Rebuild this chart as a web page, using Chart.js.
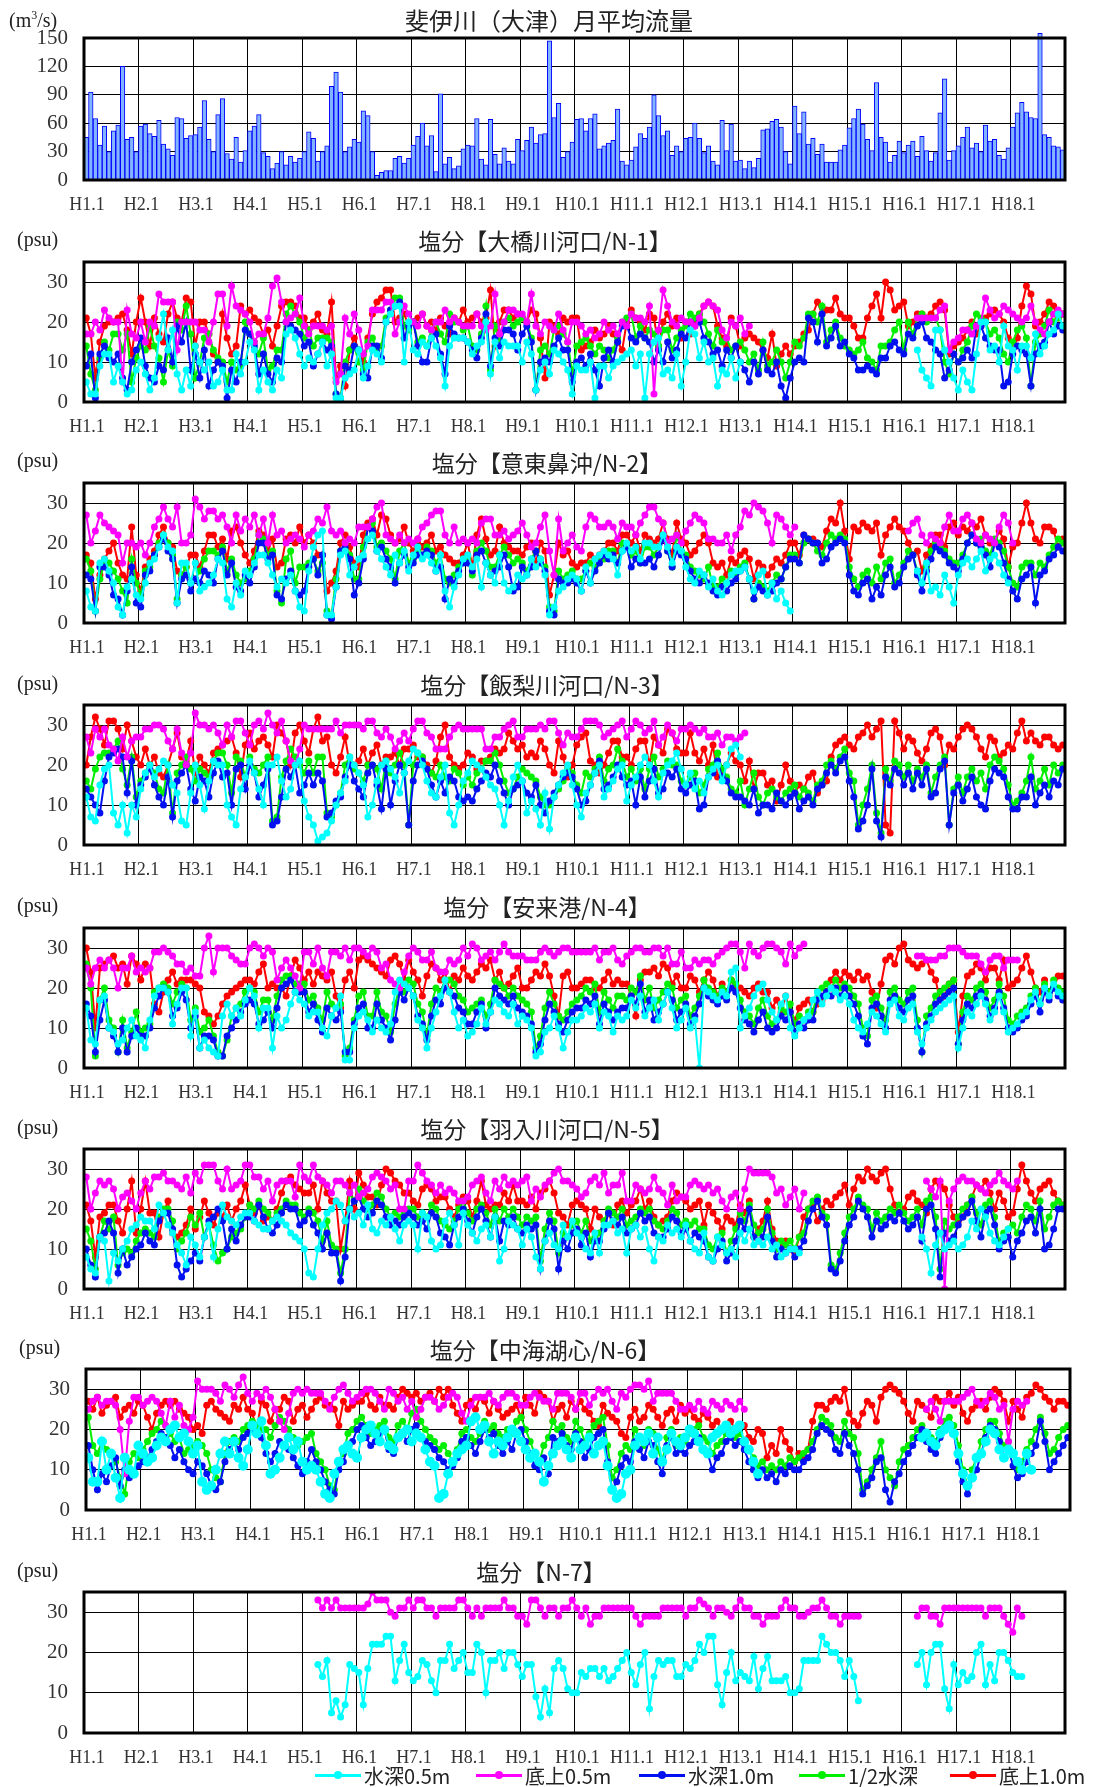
<!DOCTYPE html>
<html lang="ja">
<head>
<meta charset="utf-8">
<title>斐伊川（大津）月平均流量・中海塩分</title>
<script src="https://cdn.jsdelivr.net/npm/chart.js@4.4.1/dist/chart.umd.min.js"></script>
<style>
html, body { margin: 0; padding: 0; background: #fff; }
#page { position: relative; width: 1099px; height: 1787px; overflow: hidden; font-family: "Noto Sans CJK JP", sans-serif; color: #222; }
#page canvas { position: absolute; left: 0; }
.title { position: absolute; transform: translate(-50%, -50%); font-size: 23px; white-space: nowrap; z-index: 2; }
.unit { position: absolute; transform: translateY(-50%); font-family: "Liberation Serif", serif; font-size: 20px; white-space: nowrap; z-index: 2; }
.unit sup { font-size: 12px; }
.lg { position: absolute; top: 1763px; height: 24px; display: flex; align-items: center; font-size: 20px; white-space: nowrap; z-index: 2; }
.lg b { display: block; position: relative; width: 46px; height: 3px; margin-right: 3px; }
.lg b::after { content: ""; position: absolute; left: 50%; top: 50%; width: 8px; height: 8px; border-radius: 50%; background: inherit; transform: translate(-50%, -50%); }
</style>
</head>
<body>
<div id="page">
  <div class="unit" style="left:9px;top:20px">(m<sup>3</sup>/s)</div>
  <div class="title" style="left:549px;top:19px;font-size:24px">斐伊川（大津）月平均流量</div>

  <div class="unit" style="left:17px;top:239px">(psu)</div>
  <div class="title" style="left:545px;top:240px">塩分【大橋川河口/N-1】</div>
  <div class="unit" style="left:17px;top:460px">(psu)</div>
  <div class="title" style="left:547px;top:462px">塩分【意東鼻沖/N-2】</div>
  <div class="unit" style="left:17px;top:683px">(psu)</div>
  <div class="title" style="left:547px;top:684px">塩分【飯梨川河口/N-3】</div>
  <div class="unit" style="left:17px;top:905px">(psu)</div>
  <div class="title" style="left:547px;top:906px">塩分【安来港/N-4】</div>
  <div class="unit" style="left:17px;top:1127px">(psu)</div>
  <div class="title" style="left:547px;top:1128px">塩分【羽入川河口/N-5】</div>
  <div class="unit" style="left:19px;top:1347px">(psu)</div>
  <div class="title" style="left:545px;top:1349px">塩分【中海湖心/N-6】</div>
  <div class="unit" style="left:17px;top:1570px">(psu)</div>
  <div class="title" style="left:541px;top:1571px">塩分【N-7】</div>

  <div class="lg" style="left:315px"><b style="background:#00ffff"></b>水深0.5m</div>
  <div class="lg" style="left:476px"><b style="background:#ff00ff"></b>底上0.5m</div>
  <div class="lg" style="left:639px"><b style="background:#0010f0"></b>水深1.0m</div>
  <div class="lg" style="left:799px"><b style="background:#00ee00"></b>1/2水深</div>
  <div class="lg" style="left:950px"><b style="background:#ff0000"></b>底上1.0m</div>
</div>

<script>
// ---------------- data ----------------
const yearLabels = ["H1.1","H2.1","H3.1","H4.1","H5.1","H6.1","H7.1","H8.1","H9.1",
  "H10.1","H11.1","H12.1","H13.1","H14.1","H15.1","H16.1","H17.1","H18.1"];

const seriesNames = ["水深0.5m", "底上0.5m", "水深1.0m", "1/2水深", "底上1.0m"];

// monthly mean flow (m3/s), H1.1 - H18.12
const flow = [
  45,93,65,37,57,30,52,58,120,43,45,30,
  57,59,49,46,63,38,33,26,66,65,44,47,
  48,56,84,43,30,69,86,28,22,45,19,31,
  52,57,69,29,25,12,18,30,16,25,19,23,
  30,51,44,20,30,36,99,114,93,30,35,43,
  40,73,68,30,5,8,10,10,23,25,18,23,
  37,46,60,36,47,9,91,17,24,12,15,33,
  37,36,65,22,16,64,27,17,34,20,17,43,
  31,42,56,39,48,49,147,66,81,24,30,40,
  64,65,52,65,70,33,36,39,42,75,20,16,
  21,35,49,44,56,90,68,47,52,26,36,30,
  44,45,60,44,29,36,20,16,63,31,59,20,
  21,12,20,13,23,53,54,62,64,56,30,17,
  78,49,72,38,44,27,38,19,19,19,32,37,
  55,65,75,59,43,31,103,45,40,19,26,41,
  29,37,41,25,46,31,20,29,71,107,21,31,
  36,45,56,34,39,30,58,41,43,26,22,34,
  56,71,82,72,66,65,155,48,45,36,35,32
];

// ---- N-1 ----
const n1Cyan = [
  5,2,2,9,12,12,5,9,5,2,3,8,
  10,7,3,6,16,22,13,18,7,3,8,4,
  14,10,8,10,4,5,8,3,3,12,7,10,
  15,13,3,8,5,3,8,6,17,18,16,12,
  9,11,10,12,15,9,12,1,1,6,7,8,
  13,6,9,13,12,10,20,22,24,24,10,20,
  13,12,15,14,16,14,11,4,14,16,16,16,
  15,12,14,15,20,7,15,11,15,14,14,14,
  10,15,12,3,8,10,7,13,12,10,8,2,
  9,8,8,10,1,9,9,6,9,10,11,12,
  13,9,12,1,12,15,16,7,8,6,12,4,
  10,18,17,11,15,10,11,4,8,7,11,6,
  10,null,null,null,null,null,null,null,null,null,null,null,
  null,null,null,null,null,null,null,null,null,null,null,null,
  null,null,null,null,null,null,null,null,null,null,null,null,
  null,null,null,13,8,6,4,18,18,13,10,6,
  3,8,5,3,12,20,20,13,14,10,19,14,
  13,8,14,14,11,17,12,14,17,18,22,19
];
const n1Magenta = [
  17,17,20,18,23,21,20,20,5,23,17,16,
  20,15,20,19,27,25,25,25,13,20,20,20,
  20,18,18,15,20,27,27,19,29,24,23,22,
  20,15,17,17,21,29,31,25,20,21,22,26,
  19,17,19,19,19,18,19,5,7,21,17,22,
  18,12,14,23,23,23,25,25,17,20,24,22,
  20,19,22,19,18,20,20,23,20,21,20,19,
  19,19,22,19,18,19,27,17,20,23,23,22,
  22,20,27,19,17,20,19,18,22,18,15,20,
  20,19,17,18,16,17,20,18,19,17,20,19,
  22,21,21,20,24,2,18,28,24,20,19,21,
  20,20,19,21,24,25,24,23,18,16,20,19,
  21,17,19,null,null,null,null,null,null,null,null,null,
  null,null,null,null,null,null,null,null,null,null,null,null,
  null,null,null,null,null,null,null,null,null,null,null,null,
  null,null,null,21,21,21,21,21,23,24,13,15,
  16,18,18,17,19,20,26,23,21,22,24,23,
  22,21,20,21,24,20,18,17,20,22,23,22
];
const n1Blue = [
  9,12,1,12,14,11,10,12,6,3,10,13,
  16,9,6,5,9,8,16,10,19,15,20,8,
  12,6,13,4,8,10,9,1,8,5,10,18,
  17,14,7,12,7,5,11,10,20,19,18,17,
  14,15,9,12,15,13,14,2,0,9,8,14,
  13,7,6,14,14,11,20,23,24,25,16,19,
  20,14,10,10,16,17,12,7,19,17,16,16,
  15,13,11,16,22,9,16,14,18,18,17,13,
  17,19,15,3,10,11,10,14,16,13,13,5,
  10,11,9,12,8,4,11,13,10,15,19,19,
  16,15,17,16,15,10,13,10,15,11,13,17,
  16,20,19,20,16,15,12,13,9,13,11,14,
  10,8,5,10,7,13,8,7,10,4,1,6,
  10,11,10,21,20,15,22,14,16,19,14,15,
  12,11,8,8,9,8,7,11,11,14,15,13,
  12,17,16,19,20,16,15,13,12,6,8,12,
  10,11,13,11,19,19,16,14,13,13,4,5,
  12,14,13,12,4,12,14,15,20,17,19,18
];
const n1Green = [
  14,7,3,11,15,13,17,17,13,17,5,11,
  14,13,19,14,11,5,13,9,20,18,24,17,
  6,10,16,17,13,11,10,5,10,8,9,20,
  17,15,12,16,8,9,13,13,22,24,22,20,
  16,18,14,16,16,16,15,2,1,10,13,14,
  10,8,15,16,13,14,21,23,26,26,19,18,
  20,15,16,14,18,20,17,15,22,20,20,18,
  19,14,13,17,24,8,19,15,20,21,19,20,
  21,20,16,3,13,14,12,18,19,17,15,7,
  14,15,16,14,12,14,13,11,13,16,20,21,
  22,16,19,16,18,17,14,18,18,13,16,18,
  19,22,21,22,20,17,14,18,15,16,13,14,
  15,13,10,12,8,15,9,10,13,10,6,10,
  15,14,16,22,22,20,24,15,18,20,16,14,
  13,12,13,15,11,10,8,14,14,15,18,20,
  13,20,17,21,22,20,21,21,18,10,7,12,
  10,13,15,19,22,21,20,17,18,16,12,10,
  15,18,19,16,4,15,17,19,23,20,21,22
];
const n1Red = [
  21,17,6,15,19,20,20,21,22,18,12,20,
  26,20,14,21,17,15,22,25,21,20,26,25,
  14,20,20,17,12,10,22,16,12,14,24,22,
  23,21,20,17,18,14,19,24,25,25,24,21,
  21,18,20,22,18,17,25,6,9,4,13,16,
  13,10,16,22,25,26,28,28,20,21,22,19,
  20,21,22,19,20,18,21,19,17,21,20,23,
  20,21,22,20,21,28,14,20,23,23,21,22,
  21,20,23,22,16,6,20,19,17,21,20,21,
  21,13,14,15,18,16,17,19,17,15,13,20,
  23,21,20,18,22,21,14,20,22,19,21,16,
  20,17,20,22,24,25,24,19,16,14,21,19,
  14,16,17,16,15,13,11,17,9,12,14,12,
  14,15,17,18,22,25,22,23,23,26,22,21,
  21,19,16,16,21,24,27,21,30,28,23,24,
  25,19,20,22,22,21,22,24,25,23,12,14,
  15,16,18,20,17,19,21,22,23,22,20,16,
  13,16,24,29,27,19,20,22,25,24,21,22
];

// ---- N-2 ----
const n2Cyan = [
  8,4,3,15,16,13,10,4,2,9,11,7,
  6,10,15,16,19,22,19,18,5,15,15,10,
  15,8,9,10,12,16,15,6,4,10,7,13,
  12,15,17,17,15,12,9,11,10,12,8,4,
  3,13,19,22,23,2,2,9,17,18,12,14,
  16,17,21,22,18,16,14,12,17,15,18,13,
  17,19,16,17,15,13,17,8,4,9,12,16,
  17,14,16,9,15,12,10,17,10,8,9,12,
  11,12,16,14,16,12,2,4,8,9,11,12,
  11,8,14,10,16,17,18,17,16,12,18,20,
  18,19,16,20,20,19,19,22,19,15,19,18,
  14,11,10,13,12,9,11,8,7,10,12,13,
  13,14,11,8,12,13,7,10,6,8,5,3,
  null,null,null,null,null,null,null,null,null,null,null,null,
  null,null,null,null,null,null,null,null,null,null,null,null,
  null,null,null,13,10,15,8,9,7,12,9,5,
  12,15,16,14,16,18,13,16,17,15,12,10,
  null,null,null,null,null,null,null,null,null,null,null,null
];
const n2Magenta = [
  27,20,23,27,25,24,23,22,15,20,20,19,
  20,17,20,24,26,29,26,24,29,20,20,22,
  31,29,26,28,28,26,27,24,20,27,23,26,
  24,27,22,26,20,27,22,23,20,21,22,21,
  19,22,23,26,25,29,23,22,23,20,21,20,
  24,24,24,26,29,30,22,21,20,22,20,21,
  20,21,24,25,27,28,28,22,20,24,20,21,
  20,21,20,25,26,26,22,22,23,21,22,23,
  25,22,19,20,24,27,18,12,26,18,20,22,
  19,18,24,27,26,24,24,25,24,21,25,24,
  24,22,25,27,29,29,26,25,20,21,22,20,
  23,25,27,26,25,21,21,20,20,22,18,22,
  24,28,27,30,29,28,25,20,27,26,24,22,
  24,null,null,null,null,null,null,null,null,null,null,null,
  null,null,null,null,null,null,null,null,null,null,null,null,
  null,23,25,26,22,20,22,21,20,24,27,23,
  23,26,27,25,21,20,22,21,20,24,27,25,
  20,null,null,null,null,null,null,null,null,null,null,null
];
const n2Blue = [
  12,11,3,14,14,12,7,6,2,8,14,5,
  4,12,13,17,19,21,18,16,5,11,12,8,
  11,10,13,12,10,16,18,12,15,9,8,12,
  10,14,20,20,16,17,7,6,11,13,8,7,
  8,14,16,12,17,2,1,9,18,19,16,7,
  10,16,24,23,18,19,16,14,10,15,17,14,
  15,17,17,18,17,13,14,6,11,10,13,15,
  15,13,17,18,15,12,13,14,17,14,8,9,
  14,12,14,18,15,13,3,2,11,10,10,11,
  10,8,13,10,13,15,17,16,17,15,18,19,
  14,16,15,15,16,14,17,21,18,14,18,17,
  16,13,11,10,12,10,8,7,9,8,10,11,
  13,14,11,6,9,8,7,8,10,11,14,16,
  16,15,22,21,20,20,15,16,19,20,21,20,
  12,8,7,10,11,6,9,7,12,14,9,10,
  14,16,17,12,8,13,16,19,18,17,15,14,
  13,16,20,22,20,19,17,14,20,19,15,11,
  8,6,11,12,14,5,12,13,16,17,19,18
];
const n2Green = [
  16,13,3,11,15,15,13,11,8,5,16,10,
  7,13,14,17,20,22,20,17,6,12,14,10,
  11,13,16,18,18,17,19,13,16,12,10,11,
  13,16,22,21,17,18,8,5,16,18,10,14,
  14,15,16,13,15,3,2,11,18,20,17,11,
  11,19,24,25,19,20,18,16,11,18,20,15,
  16,18,17,19,18,15,17,11,10,12,14,16,
  16,12,18,20,18,14,14,17,19,17,15,16,
  15,13,16,18,16,14,4,3,13,11,12,13,
  11,11,13,15,14,16,16,18,18,15,20,19,
  17,18,15,19,19,17,19,22,18,14,22,18,
  17,14,13,12,11,14,9,9,11,10,13,12,
  14,15,11,6,10,9,8,10,12,11,14,17,
  17,15,20,21,20,18,17,20,22,21,22,21,
  14,11,9,12,13,10,14,11,15,16,10,12,
  15,18,17,13,10,14,18,20,19,18,16,15,
  15,17,20,22,20,21,18,17,21,20,18,14,
  10,9,14,15,15,12,15,14,17,19,21,20
];
const n2Red = [
  17,15,6,12,16,18,20,15,12,11,24,12,
  8,14,16,18,22,24,20,19,13,12,14,17,
  17,14,18,22,22,19,21,16,23,24,20,17,
  15,18,23,22,18,21,14,15,21,22,20,24,
  20,22,20,17,17,8,10,13,20,22,19,15,
  14,22,25,26,22,27,26,22,20,21,24,20,
  18,21,19,20,22,18,19,17,16,15,15,17,
  20,14,22,26,21,17,18,24,20,19,18,18,
  17,19,20,15,20,18,7,12,20,17,18,15,
  14,15,15,17,16,17,18,20,20,18,22,22,
  20,22,18,22,21,20,21,25,21,17,25,21,
  20,17,18,20,22,20,15,14,15,12,16,15,
  17,18,16,11,15,14,12,14,16,15,17,20,
  20,17,22,21,21,20,19,23,26,25,30,23,
  16,24,23,25,24,23,25,17,22,24,26,24,
  23,20,17,18,13,17,19,22,22,19,24,25,
  22,24,23,25,24,26,22,20,20,23,21,14,
  19,20,25,30,25,21,20,24,24,23,19,21
];

// ---- N-3 ----
const n3Cyan = [
  12,7,6,15,19,20,8,5,10,3,10,7,
  14,18,20,17,19,21,20,15,13,6,5,13,
  20,15,9,16,21,20,20,10,7,5,14,17,
  21,18,14,10,20,20,22,16,12,14,20,21,
  11,7,5,1,2,3,6,10,13,16,22,20,
  18,15,7,10,16,20,21,19,17,13,18,21,
  24,23,20,16,13,12,17,20,8,5,10,16,
  18,21,20,19,17,15,14,10,5,11,17,20,
  16,8,11,9,5,13,4,12,15,18,20,15,
  10,7,13,15,18,20,12,14,16,19,20,11,
  15,17,20,22,20,16,12,18,20,21,23,19,
  15,18,14,16,13,17,19,20,16,20,24,25,
  22,null,null,null,null,null,null,null,null,null,null,null,
  null,null,null,null,null,null,null,null,null,null,null,null,
  null,null,null,null,null,null,null,null,null,null,null,null,
  null,null,null,null,null,null,null,null,null,null,null,null,
  null,null,null,null,null,null,null,null,null,null,null,null,
  null,null,null,null,null,null,null,null,null,null,null,null
];
const n3Magenta = [
  27,23,29,27,29,25,24,21,27,22,26,27,
  27,29,29,30,30,29,26,24,29,23,20,23,
  33,30,30,29,30,28,25,30,27,31,31,28,
  25,30,31,29,33,30,28,31,26,21,20,24,
  30,29,29,29,29,29,29,31,28,30,30,30,
  30,29,31,31,28,27,29,27,24,26,28,26,
  29,31,31,28,27,24,24,24,27,29,30,29,
  29,29,29,29,24,24,27,27,29,30,31,27,
  27,29,29,29,30,29,31,31,28,25,28,27,
  27,29,31,31,31,30,27,28,29,30,31,27,
  29,31,30,28,29,31,25,27,30,28,26,29,
  29,30,29,28,29,27,27,28,25,27,27,26,
  27,28,null,null,null,null,null,null,null,null,null,null,
  null,null,null,null,null,null,null,null,null,null,null,null,
  null,null,null,null,null,null,null,null,null,null,null,null,
  null,null,null,null,null,null,null,null,null,null,null,null,
  null,null,null,null,null,null,null,null,null,null,null,null,
  null,null,null,null,null,null,null,null,null,null,null,null
];
const n3Blue = [
  14,12,10,8,16,22,23,24,22,13,21,10,
  15,17,19,15,12,10,17,7,16,18,20,14,
  11,17,16,12,18,21,17,18,10,19,20,14,
  20,18,12,15,19,5,6,12,19,17,20,13,
  15,18,15,18,16,7,8,11,12,17,20,16,
  14,12,18,20,15,9,19,10,16,20,18,5,
  16,20,21,19,15,12,16,13,17,16,12,11,
  12,11,14,16,18,17,20,16,13,10,14,15,
  16,13,12,15,10,8,11,13,15,17,18,17,
  14,10,11,15,18,21,14,15,17,20,17,15,
  16,10,17,12,16,19,13,14,18,17,19,14,
  13,15,16,9,10,17,18,21,17,16,13,12,
  12,11,10,14,8,10,10,9,13,11,10,12,
  13,9,11,12,10,14,15,18,20,18,21,22,
  16,12,4,6,10,19,6,2,17,15,19,18,
  15,18,14,18,15,19,12,13,19,21,5,13,
  15,11,14,17,12,10,9,16,19,18,17,12,
  9,9,12,12,17,10,13,15,12,16,15,19
];
const n3Green = [
  16,14,19,22,23,23,24,26,19,15,22,12,
  16,18,20,18,14,13,20,8,18,20,22,19,
  16,19,18,17,21,23,23,20,13,22,21,17,
  22,19,18,20,22,6,7,17,21,24,22,20,
  18,21,18,22,22,8,7,10,13,20,22,19,
  18,16,20,20,19,14,21,18,20,23,20,5,
  20,23,22,19,18,17,20,17,16,19,18,15,
  17,15,18,19,21,21,23,20,16,13,14,17,
  19,18,17,16,12,10,10,12,14,16,19,18,
  15,13,18,17,19,22,16,19,20,24,21,17,
  19,16,19,14,19,22,17,19,21,20,20,16,
  15,17,18,13,15,19,20,23,19,17,14,13,
  16,10,14,18,12,10,13,14,12,11,13,14,
  15,12,14,13,11,15,16,20,21,19,22,24,
  18,16,5,10,14,20,8,3,19,16,21,20,
  17,20,16,19,17,20,13,17,20,22,5,14,
  17,13,17,19,16,18,14,20,22,21,19,15,
  10,11,13,16,22,14,16,19,15,20,18,20
];
const n3Red = [
  20,27,32,29,25,31,31,29,24,30,26,22,
  20,24,20,22,18,17,20,24,28,22,21,26,
  18,22,20,18,23,24,25,26,27,23,17,25,
  28,24,26,27,25,22,30,28,26,20,28,30,
  26,23,29,32,26,27,20,18,22,27,20,20,
  21,24,20,23,25,20,22,22,23,20,24,24,
  25,22,22,20,18,21,27,30,22,20,19,20,
  23,22,19,21,21,22,24,23,24,28,26,24,
  25,22,23,22,26,24,20,18,26,22,17,20,
  25,27,28,21,20,18,20,23,26,26,22,22,
  20,24,26,26,20,27,25,23,29,28,24,23,
  23,28,23,21,24,20,25,17,18,20,23,21,
  20,16,21,14,18,18,15,16,11,15,20,16,
  13,15,14,17,18,13,15,16,22,25,26,27,
  25,24,27,28,30,27,29,31,5,3,31,28,
  24,27,26,23,21,24,28,29,27,20,25,24,
  27,29,30,29,27,24,22,27,26,22,23,25,
  24,28,31,26,28,26,25,27,27,25,24,25
];

// ---- N-4 ----
const n4Cyan = [
  15,7,6,17,18,10,9,6,7,10,12,8,
  7,5,12,18,20,20,19,11,16,20,20,8,
  14,5,7,5,4,3,13,16,13,15,13,17,
  20,18,10,15,15,5,13,10,12,16,19,17,
  16,13,14,14,10,8,13,15,18,2,2,10,
  13,14,12,9,12,10,9,11,19,22,21,20,
  18,12,10,5,10,14,18,22,19,14,10,12,
  8,9,11,15,11,14,17,16,14,13,16,11,
  13,12,10,3,4,9,10,13,10,5,9,12,
  12,13,15,14,16,10,14,13,9,13,12,13,
  17,15,18,13,15,17,12,16,19,15,10,12,
  15,10,12,0,20,19,18,17,19,18,24,25,
  10,13,15,18,20,21,17,14,12,16,18,10,
  8,10,12,13,17,19,16,18,20,19,17,18,
  16,12,10,9,11,14,13,11,9,16,17,13,
  12,15,16,9,6,10,12,14,15,16,17,18,
  5,10,14,13,16,18,16,12,14,18,14,9,
  10,11,13,14,17,19,16,20,18,21,19,18
];
const n4Magenta = [
  25,21,25,27,25,27,25,20,25,25,28,24,
  25,24,25,29,29,30,29,28,26,26,24,25,
  23,23,30,33,24,30,30,30,28,27,26,26,
  30,31,30,28,30,29,22,25,27,25,23,20,
  29,29,26,30,25,23,29,29,28,30,27,30,
  30,29,28,30,29,25,26,22,21,20,24,28,
  30,29,27,27,29,25,24,24,27,26,27,30,
  28,31,30,27,28,29,27,29,31,29,28,28,
  28,27,27,27,29,30,29,28,29,30,30,29,
  29,29,29,29,30,27,29,29,30,27,26,28,
  29,30,30,29,29,30,30,28,30,26,26,29,
  25,25,27,26,27,27,26,28,29,30,31,31,
  29,25,31,29,28,30,31,31,30,29,26,31,
  28,30,31,null,null,null,null,null,null,null,null,null,
  null,null,null,null,null,null,null,null,null,null,null,null,
  null,null,null,28,28,27,27,27,28,28,30,30,
  30,29,28,28,28,26,24,27,28,28,25,27,
  27,27,null,null,null,null,null,null,null,null,null,null
];
const n4Blue = [
  16,13,4,12,17,10,8,4,10,4,8,10,
  8,8,10,15,18,20,19,13,15,19,17,10,
  13,5,8,8,7,3,3,8,10,12,14,16,
  17,16,11,12,14,10,15,20,21,22,19,19,
  19,14,16,12,9,15,13,12,14,4,4,11,
  15,16,10,10,16,12,10,7,12,19,17,20,
  18,13,11,7,13,17,16,20,19,18,15,14,
  11,11,14,16,10,14,20,18,17,16,18,15,
  14,13,11,4,6,12,16,14,11,9,12,14,
  15,15,17,16,18,11,16,14,12,14,15,15,
  18,16,21,14,17,12,14,16,19,17,12,14,
  16,11,13,16,20,18,17,16,18,17,20,19,
  15,12,11,9,12,14,10,9,10,13,12,14,
  9,11,10,12,12,17,18,19,18,20,18,20,
  18,16,13,8,6,15,16,13,10,17,18,15,
  14,17,18,10,4,11,13,16,17,18,19,20,
  6,12,16,15,18,19,17,13,15,19,15,10,
  9,10,12,13,16,18,14,19,17,20,18,17
];
const n4Green = [
  26,20,3,17,20,12,10,4,12,5,9,14,
  9,10,11,19,20,21,20,16,19,21,20,12,
  15,9,10,12,8,4,3,7,13,15,16,19,
  20,19,14,17,17,12,18,22,23,23,21,21,
  21,17,18,15,12,19,16,15,16,3,5,12,
  18,19,13,13,19,14,13,9,16,20,19,22,
  21,16,14,8,16,20,19,22,22,21,18,17,
  14,15,16,17,13,16,22,21,20,18,20,18,
  17,16,14,5,8,15,19,16,13,12,14,16,
  17,18,20,19,21,14,19,17,15,18,18,17,
  20,19,23,17,20,15,17,19,21,20,15,17,
  18,13,15,18,22,20,19,18,20,19,22,21,
  17,14,13,11,15,17,13,11,12,15,14,16,
  11,13,12,14,14,19,20,21,20,22,20,21,
  20,18,16,10,8,17,18,15,12,19,20,17,
  16,19,20,12,4,13,15,18,19,20,21,22,
  6,14,18,17,20,21,19,15,17,21,18,12,
  11,13,14,15,18,20,16,21,19,22,20,19
];
const n4Red = [
  30,24,10,25,26,27,28,25,26,21,28,26,
  22,26,25,16,14,19,22,24,21,22,22,22,
  21,20,14,13,11,13,16,18,19,20,21,22,
  22,21,24,26,20,21,20,20,18,23,27,25,
  22,24,21,24,23,22,24,18,15,22,24,20,
  27,28,27,26,25,24,23,27,28,26,22,27,
  24,22,18,23,26,25,22,24,19,23,22,25,
  23,22,24,26,25,27,22,24,20,21,23,25,
  20,20,22,24,23,26,23,18,13,23,24,20,
  20,21,22,22,20,20,22,24,21,22,21,21,
  18,13,22,24,24,25,23,26,25,21,23,20,
  20,23,22,19,22,24,22,18,21,19,22,20,
  20,19,18,20,21,19,19,15,17,14,18,14,
  12,15,16,17,14,16,17,19,22,24,22,24,
  23,22,24,22,23,19,15,21,27,28,26,30,
  31,27,26,25,26,27,24,22,17,18,21,22,
  9,18,23,24,26,25,22,25,25,22,27,20,
  21,22,25,28,24,20,19,22,18,20,23,23
];

// ---- N-5 ----
const n5Cyan = [
  8,5,4,13,12,2,9,7,10,12,15,16,
  18,17,17,15,21,19,16,14,11,9,6,13,
  11,8,13,16,8,15,21,18,17,16,18,19,
  19,17,16,15,15,17,18,17,16,14,13,12,
  10,4,3,10,16,19,20,22,21,17,20,18,
  19,16,21,15,14,17,16,18,15,12,16,17,
  16,10,19,18,12,10,11,17,19,16,11,19,
  16,14,12,15,16,13,18,7,10,17,16,15,
  11,15,13,8,5,12,14,11,10,16,13,17,
  14,13,10,9,14,9,16,16,17,14,15,9,
  15,16,13,15,10,7,13,12,16,14,15,13,
  16,12,10,9,14,8,7,13,11,9,10,8,
  14,12,15,11,12,11,13,10,11,8,9,10,
  10,9,null,null,null,null,null,null,null,null,null,null,
  null,null,null,null,null,null,null,null,null,null,null,null,
  null,null,null,null,13,10,4,11,14,10,11,12,
  10,11,13,17,15,20,18,14,12,11,13,15,
  null,null,null,null,null,null,null,null,null,null,null,null
];
const n5Magenta = [
  28,20,24,27,26,27,25,20,23,24,22,20,
  24,27,25,28,28,29,27,27,26,25,28,24,
  29,27,31,31,31,27,25,30,25,26,27,31,
  31,28,28,25,27,22,26,27,27,27,23,31,
  28,27,31,28,27,26,24,27,27,26,24,26,
  23,24,25,28,29,28,27,25,26,20,20,27,
  27,31,29,27,26,24,26,24,25,24,22,22,
  23,26,27,28,24,22,27,25,28,26,27,26,
  27,28,22,25,23,26,27,29,30,27,27,26,
  25,23,24,27,28,26,29,24,26,26,29,22,
  22,26,25,24,25,28,25,24,21,26,22,23,
  23,26,27,26,25,26,24,25,22,20,23,24,
  20,25,30,29,29,29,29,28,24,25,21,23,
  25,20,24,null,null,null,null,null,null,null,null,null,
  null,null,null,null,null,null,null,null,null,null,null,null,
  null,null,null,null,null,27,25,23,27,0,22,25,
  27,28,27,27,26,25,24,26,27,29,27,26,
  25,27,null,null,null,null,null,null,null,null,null,null
];
const n5Blue = [
  10,6,3,13,14,17,14,4,10,6,8,10,
  11,14,12,11,17,19,19,15,6,3,5,7,
  9,7,13,17,18,20,17,10,15,12,16,18,
  18,17,21,18,15,14,16,19,21,20,20,16,
  17,19,16,14,10,14,9,9,2,8,20,22,
  23,20,18,19,22,21,18,16,17,16,18,19,
  18,16,17,15,19,18,14,13,11,16,18,20,
  17,14,18,20,17,13,18,12,17,16,18,15,
  14,16,15,16,5,12,17,15,5,12,10,14,
  15,11,14,8,12,12,15,19,17,16,18,14,
  15,16,19,17,18,14,13,13,15,18,17,14,
  15,12,14,13,12,8,7,10,12,7,9,12,
  17,15,20,13,12,13,18,12,8,10,9,10,
  8,10,12,17,20,22,18,16,5,4,7,12,
  16,18,22,20,18,13,17,15,16,18,17,19,
  17,15,16,18,12,20,21,15,3,14,12,13,
  16,18,19,22,17,13,19,20,16,10,12,13,
  8,12,14,17,18,14,20,10,11,15,20,20
];
const n5Green = [
  15,12,5,13,17,15,18,6,9,10,9,12,
  14,15,14,13,18,20,20,17,10,12,14,18,
  16,19,13,16,11,7,9,10,13,14,15,18,
  21,20,22,20,19,17,19,20,22,21,21,19,
  18,20,19,17,12,17,11,10,4,10,24,22,
  25,22,20,21,24,23,20,18,19,18,19,20,
  20,18,19,18,21,20,17,16,15,17,20,22,
  19,17,20,21,19,16,20,17,20,18,20,18,
  16,18,17,18,7,15,19,17,9,14,13,16,
  17,14,17,12,13,14,17,20,19,18,20,16,
  17,18,20,19,20,17,16,15,17,20,19,16,
  17,16,17,15,15,11,10,13,14,9,12,15,
  19,17,21,16,14,15,20,14,10,12,11,12,
  10,13,14,20,22,23,19,18,6,5,9,14,
  18,20,23,21,20,15,19,17,18,20,19,21,
  19,17,18,20,16,22,23,18,5,17,15,16,
  18,20,21,23,19,16,21,22,18,12,14,15,
  16,14,18,21,20,17,22,15,18,21,22,21
];
const n5Red = [
  21,17,8,18,19,21,21,17,14,20,27,14,
  20,27,19,19,13,19,22,14,13,14,16,20,
  15,18,22,19,16,19,18,21,17,20,22,26,
  21,19,21,17,18,17,20,24,27,28,26,25,
  24,24,26,20,27,24,22,22,10,17,27,20,
  29,26,23,23,21,26,30,29,27,26,24,24,
  22,21,25,26,25,22,23,23,20,18,21,23,
  22,18,22,27,21,20,21,21,24,22,26,22,
  22,21,23,20,24,25,27,24,19,18,16,21,
  22,21,20,15,20,18,17,19,16,21,22,19,
  21,22,25,20,22,18,16,17,18,22,24,23,
  22,20,21,22,16,21,19,17,15,18,17,16,
  21,19,22,13,15,17,22,15,12,11,12,10,
  9,13,18,20,21,17,20,22,21,23,24,26,
  21,25,28,27,30,28,27,29,30,25,21,19,
  20,23,24,22,21,19,25,27,26,25,21,18,
  17,18,21,23,26,25,27,24,20,24,22,18,
  19,25,31,27,24,22,25,26,27,24,22,21
];

// ---- N-6 ----
const n6Cyan = [
  13,7,7,17,10,14,8,3,13,10,9,16,
  14,12,13,16,18,17,20,21,18,19,17,14,
  16,7,5,6,10,14,17,14,17,13,11,15,
  21,19,22,16,9,10,13,16,18,15,17,12,
  10,11,10,7,4,3,9,12,15,16,14,13,
  18,20,21,19,17,20,16,15,18,19,20,17,
  19,18,15,12,11,3,4,9,12,14,15,16,
  22,23,20,21,17,14,17,16,18,20,19,17,
  15,13,14,12,7,11,14,16,17,15,13,18,
  15,16,18,14,16,17,11,5,3,4,9,10,
  16,18,17,19,14,18,12,15,19,17,16,18,
  20,19,17,15,14,18,19,20,21,19,20,21,
  17,15,12,9,null,null,null,null,null,null,null,null,
  null,null,null,null,null,null,null,null,null,null,null,null,
  null,null,null,null,null,null,null,null,null,null,null,null,
  null,null,null,18,19,17,16,19,20,21,19,14,
  9,6,8,13,14,17,20,19,15,13,15,14,
  12,10,14,10,null,null,null,null,null,null,null,null
];
const n6Magenta = [
  25,27,28,26,27,27,26,20,9,22,28,28,
  26,27,28,27,24,21,27,23,26,21,20,23,
  32,30,30,30,29,27,31,30,28,31,33,29,
  27,29,28,30,28,25,22,20,24,29,30,29,
  30,29,29,29,27,25,28,30,31,29,27,28,
  29,30,30,29,27,25,30,29,27,28,25,27,
  23,25,28,28,27,25,26,28,29,28,24,22,
  26,28,28,28,29,27,26,28,29,29,28,26,
  26,28,29,28,27,27,25,29,29,29,28,25,
  29,29,26,28,30,29,30,27,25,29,28,30,
  31,31,30,32,27,29,29,29,29,27,25,25,
  26,25,27,25,24,27,26,25,27,26,25,27,
  25,null,null,null,null,null,null,null,null,null,null,null,
  null,null,null,null,null,null,null,null,null,null,null,null,
  null,null,null,null,null,null,null,null,null,null,null,null,
  null,null,null,null,25,27,25,22,27,27,27,27,
  28,29,30,27,26,27,29,28,25,26,17,25,
  27,26,27,null,null,null,null,null,null,null,null,null
];
const n6Blue = [
  16,10,5,9,7,11,13,6,10,8,9,11,
  12,13,15,17,19,18,16,13,15,12,10,9,
  12,11,9,6,5,7,12,15,17,15,18,19,
  20,19,18,14,12,14,17,16,15,13,11,9,
  12,15,12,10,7,5,4,10,12,16,17,20,
  21,18,16,17,19,20,15,14,18,19,17,20,
  21,18,17,16,15,13,12,10,11,13,17,18,
  16,14,17,20,18,19,16,14,17,15,19,20,
  17,14,11,10,13,9,18,17,19,16,15,19,
  17,13,15,18,19,20,12,5,7,11,13,12,
  17,15,13,17,16,12,9,16,18,14,15,14,
  16,17,18,15,14,10,13,14,17,18,16,17,
  15,12,10,8,10,8,9,7,10,9,11,10,
  10,12,13,15,19,21,20,19,15,14,19,16,
  14,10,4,6,8,12,13,5,2,7,9,12,
  14,16,18,20,17,15,14,18,20,21,19,12,
  7,4,8,10,14,18,21,20,17,13,15,11,
  8,9,12,14,16,22,17,10,12,14,16,18
];
const n6Green = [
  23,16,14,17,15,14,12,8,4,12,14,13,
  15,17,19,20,22,21,19,17,18,14,15,16,
  17,16,14,10,8,7,14,17,18,17,20,21,
  22,21,20,20,18,21,23,22,20,18,16,17,
  18,19,14,12,10,6,5,12,14,19,20,22,
  23,21,19,20,21,22,18,17,21,22,20,24,
  25,22,20,18,17,15,16,14,12,15,19,20,
  18,17,19,22,20,21,19,18,20,19,22,23,
  20,17,14,12,16,18,22,20,21,18,17,22,
  20,17,19,21,22,23,16,8,10,14,16,15,
  20,18,16,20,19,15,12,18,20,16,18,17,
  19,20,21,18,17,14,16,17,19,20,18,19,
  17,15,13,11,12,10,11,10,12,11,13,12,
  13,14,15,17,20,23,22,21,18,17,22,19,
  18,14,5,7,10,13,17,10,8,6,12,15,
  16,18,20,21,19,18,17,20,22,23,21,16,
  10,6,10,13,17,20,22,22,19,16,17,14,
  10,12,15,17,20,23,19,14,15,18,20,21
];
const n6Red = [
  27,25,28,24,26,27,28,23,25,26,24,27,
  26,23,20,24,26,27,26,27,25,24,23,20,
  21,19,26,27,25,24,23,22,26,25,28,25,
  24,20,27,26,22,25,25,28,27,22,25,26,
  23,25,27,28,26,26,25,21,27,25,26,27,
  27,29,26,25,28,26,26,25,28,30,29,28,
  29,27,28,29,27,30,28,30,26,24,22,26,
  27,25,28,27,24,27,25,23,24,25,26,23,
  28,26,24,29,28,27,22,25,26,23,27,25,
  27,25,24,22,21,26,24,23,22,19,18,23,
  25,22,23,26,25,23,21,24,25,22,26,24,
  25,23,22,24,23,21,22,20,20,22,20,21,
  21,18,17,20,19,13,16,14,20,17,15,12,
  14,13,15,22,26,26,25,27,28,27,30,24,
  22,21,24,27,26,22,28,30,31,30,29,27,
  24,22,27,26,25,23,28,27,27,29,26,28,
  24,22,25,26,27,25,28,30,29,27,22,27,
  25,23,28,29,31,30,28,27,25,27,27,26
];

// ---- N-7 (only 水深0.5m and 底上0.5m observed) ----
const n7Cyan = [
  null,null,null,null,null,null,null,null,null,null,null,null,
  null,null,null,null,null,null,null,null,null,null,null,null,
  null,null,null,null,null,null,null,null,null,null,null,null,
  null,null,null,null,null,null,null,null,null,null,null,null,
  null,null,null,17,14,18,5,8,4,7,17,16,
  15,7,16,22,22,22,24,24,13,18,22,15,
  13,14,18,17,13,10,18,18,22,16,18,20,
  15,15,22,20,10,18,18,20,16,20,20,17,
  14,17,17,9,4,11,5,16,18,16,11,10,
  10,15,14,16,16,14,16,13,14,16,18,20,
  15,12,17,20,6,14,18,17,18,18,14,14,
  17,16,18,22,20,24,24,12,7,15,20,13,
  15,14,13,19,11,16,19,13,13,13,14,10,
  10,11,18,18,18,18,24,22,20,20,18,14,
  18,14,8,null,null,null,null,null,null,null,null,null,
  null,null,null,17,20,12,20,22,22,11,6,17,
  12,15,13,14,20,22,12,17,13,20,20,18,
  15,14,14,null,null,null,null,null,null,null,null,null
];
const n7Magenta = [
  null,null,null,null,null,null,null,null,null,null,null,null,
  null,null,null,null,null,null,null,null,null,null,null,null,
  null,null,null,null,null,null,null,null,null,null,null,null,
  null,null,null,null,null,null,null,null,null,null,null,null,
  null,null,null,33,31,33,31,33,31,31,31,31,
  31,31,32,35,33,33,33,30,29,31,31,33,
  31,33,33,31,31,29,31,31,31,31,33,33,
  31,29,31,29,31,31,31,31,33,31,31,29,
  29,27,33,33,31,29,31,31,29,31,31,33,
  31,29,31,27,29,29,31,31,31,31,31,31,
  31,29,27,29,29,29,29,31,31,31,31,31,
  29,31,31,33,32,31,29,31,31,30,29,31,
  33,31,31,29,29,27,29,29,29,31,33,31,
  31,29,29,30,31,31,33,31,29,29,27,29,
  29,29,29,null,null,null,null,null,null,null,null,null,
  null,null,null,29,31,31,29,29,27,31,31,31,
  31,31,31,31,31,31,29,31,31,31,29,27,
  25,31,29,null,null,null,null,null,null,null,null,null
];

// ---------------- drawing ----------------
const W = 1099;
const MONTHS = 216;
const seriesColors = ["#00ffff", "#ff00ff", "#0010f0", "#00ee00", "#ff0000"];
const page = document.getElementById("page");

// thick frame around each plot area
const frame = {
    id: "frame",
    afterDraw(chart) {
        const a = chart.chartArea;
        const ctx = chart.ctx;
        ctx.save();
        ctx.strokeStyle = "#000";
        ctx.lineWidth = 3;
        ctx.strokeRect(a.left, a.top, a.right - a.left, a.bottom - a.top);
        ctx.restore();
    }
};

function placeCanvas(p) {
    const c = document.createElement("canvas");
    c.width = W;
    c.height = p.bottom - p.top + 90;
    c.style.top = (p.top - 40) + "px";
    page.appendChild(c);
    return c;
}

function options(p, yMax, yTicks) {
    return {
        responsive: false,
        animation: false,
        devicePixelRatio: 1,
        events: [],
        layout: { padding: { left: 0, right: W - p.right, top: 40, bottom: 10 } },
        plugins: { legend: { display: false }, tooltip: { enabled: false } },
        scales: {
            x: {
                type: "linear", min: 0, max: MONTHS, offset: false,
                grid: { color: "#000", lineWidth: 1, drawTicks: false, offset: false },
                border: { display: false },
                afterBuildTicks: s => {
                    s.ticks = yearLabels.map((_, i) => ({ value: i * 12 })).concat([{ value: MONTHS }]);
                },
                afterFit: s => { s.height = 40; },
                ticks: {
                    autoSkip: false, maxRotation: 0, minRotation: 0,
                    padding: 14, labelOffset: 3, color: "#333",
                    font: { family: "Liberation Serif", size: 18 },
                    callback: (v, i) => yearLabels[i] || ""
                }
            },
            y: {
                min: 0, max: yMax,
                grid: { color: "#000", lineWidth: 1, drawTicks: false },
                border: { display: false },
                afterBuildTicks: s => { s.ticks = yTicks.map(v => ({ value: v })); },
                afterFit: s => { s.width = p.left; },
                ticks: { padding: 16, color: "#333", font: { family: "Liberation Serif", size: 21 } }
            }
        }
    };
}

const toPoints = arr => arr.map((v, i) => ({ x: i + 0.5, y: v }));

// ---- flow bars ----
const flowPanel = { left: 84, right: 1065, top: 38, bottom: 180 };
new Chart(placeCanvas(flowPanel), {
    type: "bar",
    data: {
        datasets: [{
            data: toPoints(flow),
            backgroundColor: "rgb(130,180,255)",
            borderColor: "#0000ff",
            borderWidth: 1,
            barPercentage: 1,
            categoryPercentage: 1,
            clip: false
        }]
    },
    options: options(flowPanel, 150, [0, 30, 60, 90, 120, 150]),
    plugins: [frame]
});

// ---- salinity panels ----
const salinity = [
    { left: 84, right: 1065, top: 262, bottom: 402, series: [n1Cyan, n1Magenta, n1Blue, n1Green, n1Red] },
    { left: 84, right: 1065, top: 483, bottom: 623, series: [n2Cyan, n2Magenta, n2Blue, n2Green, n2Red] },
    { left: 84, right: 1065, top: 705, bottom: 845, series: [n3Cyan, n3Magenta, n3Blue, n3Green, n3Red] },
    { left: 84, right: 1065, top: 928, bottom: 1068, series: [n4Cyan, n4Magenta, n4Blue, n4Green, n4Red] },
    { left: 84, right: 1065, top: 1149, bottom: 1289, series: [n5Cyan, n5Magenta, n5Blue, n5Green, n5Red] },
    { left: 86, right: 1070, top: 1369, bottom: 1510, series: [n6Cyan, n6Magenta, n6Blue, n6Green, n6Red], bigCyan: true },
    { left: 84, right: 1065, top: 1592, bottom: 1733, series: [n7Cyan, n7Magenta] }
];

salinity.forEach(p => {
    const datasets = p.series.map((arr, k) => ({
        label: seriesNames[k],
        data: toPoints(arr),
        borderColor: seriesColors[k],
        backgroundColor: seriesColors[k],
        pointBackgroundColor: seriesColors[k],
        borderWidth: 2,
        pointRadius: (p.bigCyan && k === 0) ? 5 : 3.5,
        pointBorderWidth: 0,
        tension: 0,
        spanGaps: false
    }));
    new Chart(placeCanvas(p), {
        type: "line",
        data: { datasets: datasets },
        options: options(p, 35, [0, 10, 20, 30]),
        plugins: [frame]
    });
});
</script>
</body>
</html>
